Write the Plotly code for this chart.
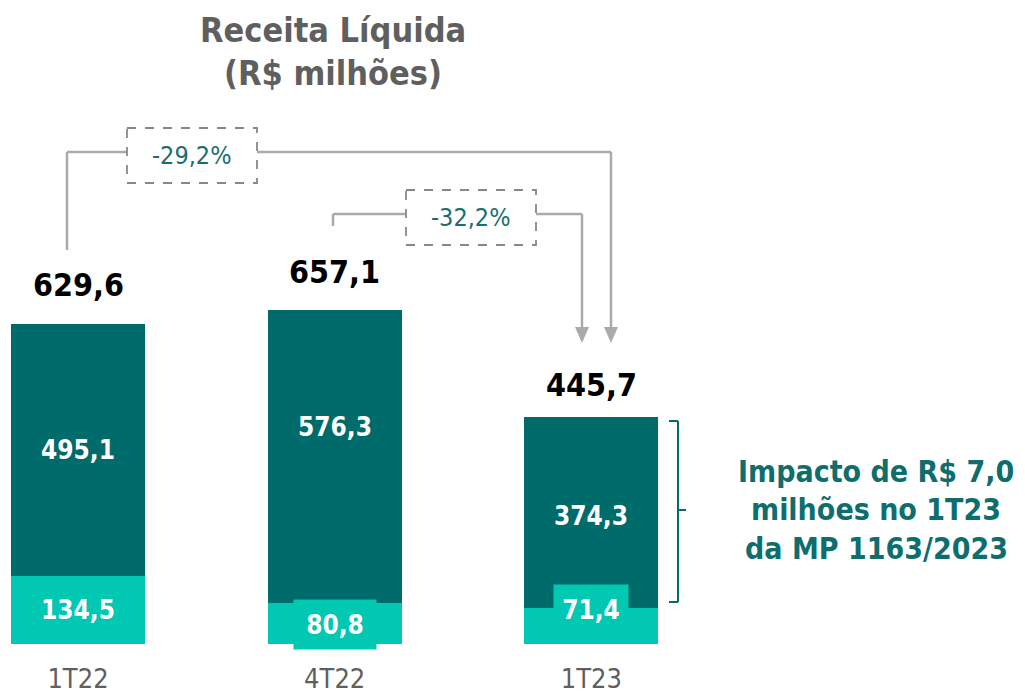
import plotly.graph_objects as go

categories = ["1T22", "4T22", "1T23"]
base_values = [134.5, 80.8, 71.4]
top_values = [495.1, 576.3, 374.3]
totals = [629.6, 657.1, 445.7]
base_labels = ["134,5", "80,8", "71,4"]
top_labels = ["495,1", "576,3", "374,3"]
total_labels = ["629,6", "657,1", "445,7"]
growth_labels = ["-29,2%", "-32,2%"]
title_lines = ["Receita Líquida", "(R$ milhões)"]
note_lines = ["Impacto de R$ 7,0", "milhões no 1T23", "da MP 1163/2023"]

DARK = "#006B6B"
LIGHT = "#00C8B3"
GRAY = "#5F5F5F"
LINE = "#AAAAAA"
FONT = "DejaVu Sans Condensed, DejaVu Sans"

W, H = 1025, 699
PLOT_BOTTOM = 644
K = 0.5085          # px per unit
STEP = 256.7        # px per category
X0 = 78             # px of first category

def px(x):
    return x / W

def py(y):
    return (PLOT_BOTTOM - y) / PLOT_BOTTOM

def note(x, y, text, font, **kw):
    fig.add_annotation(xref="paper", yref="paper", x=px(x), y=py(y), text=text,
                       showarrow=False, xanchor="center", yanchor="middle", font=font, **kw)

fig = go.Figure()
fig.add_bar(x=list(range(3)), y=base_values, marker=dict(color=LIGHT, line=dict(width=0)),
            width=134 / STEP, hoverinfo="skip")
fig.add_bar(x=list(range(3)), y=top_values, marker=dict(color=DARK, line=dict(width=0)),
            width=134 / STEP, hoverinfo="skip")

# base labels (with bg boxes on 2nd and 3rd)
for i, (v, lab) in enumerate(zip(base_values, base_labels)):
    kw = {}
    ys = 0
    if i == 1:
        kw = dict(bgcolor=LIGHT, width=80, height=47)
        ys = -1
    elif i == 2:
        kw = dict(bgcolor=LIGHT, width=72, height=48)
        ys = 16
    fig.add_annotation(x=i, y=v / 2, text=f"<b>{lab}</b>", showarrow=False, yshift=ys,
                       xanchor="center", yanchor="middle",
                       font=dict(family=FONT, size=26, color="white"), **kw)

top_shift = [0, 29, -3]
for i, (b, v, lab) in enumerate(zip(base_values, top_values, top_labels)):
    fig.add_annotation(x=i, y=b + v / 2, text=f"<b>{lab}</b>", showarrow=False,
                       xanchor="center", yanchor="middle", yshift=top_shift[i],
                       font=dict(family=FONT, size=26, color="white"))

total_shift = [39, 38, 32]
for i, (t, lab) in enumerate(zip(totals, total_labels)):
    fig.add_annotation(x=i, y=t, text=f"<b>{lab}</b>", showarrow=False,
                       xanchor="center", yanchor="middle", yshift=total_shift[i],
                       font=dict(family=FONT, size=32, color="black"))

# title
for j, line in enumerate(title_lines):
    note(333, 30 + j * 43, f"<b>{line}</b>", dict(family=FONT, size=34, color=GRAY))

# connector lines
def seg(x0, y0, x1, y1, color=LINE, width=2.5, dash=None):
    fig.add_shape(type="line", xref="paper", yref="paper",
                  x0=px(x0), y0=py(y0), x1=px(x1), y1=py(y1),
                  line=dict(color=color, width=width, dash=dash))

# line 1
seg(67, 250, 67, 152)
seg(67, 152, 127, 152)
seg(257, 152, 611, 152)
seg(611, 152, 611, 330)
# line 2
seg(333, 226, 333, 214)
seg(333, 214, 406, 214)
seg(536, 214, 582, 214)
seg(582, 214, 582, 330)

for ax in (582, 611):
    path = f"M {px(ax-7)},{py(327)} L {px(ax+7)},{py(327)} L {px(ax)},{py(343)} Z"
    fig.add_shape(type="path", xref="paper", yref="paper", path=path,
                  fillcolor=LINE, line=dict(color=LINE, width=0))

# dashed boxes with growth labels
boxes = [(127, 128, 257, 183), (406, 190, 536, 245)]
for (bx0, by0, bx1, by1), lab in zip(boxes, growth_labels):
    fig.add_shape(type="rect", xref="paper", yref="paper",
                  x0=px(bx0), y0=py(by0), x1=px(bx1), y1=py(by1),
                  line=dict(color="#888888", width=1.8, dash="dash"))
    note((bx0 + bx1) / 2, (by0 + by1) / 2, lab, dict(family=FONT, size=25, color="#1B6E6E"))

# bracket
seg(669, 421, 678, 421, color=DARK, width=2)
seg(678, 421, 678, 602, color=DARK, width=2)
seg(669, 602, 678, 602, color=DARK, width=2)
seg(678, 510, 686, 510, color=DARK, width=2)

for j, line in enumerate(note_lines):
    note(876, 471 + j * 38.5, f"<b>{line}</b>", dict(family=FONT, size=30, color="#0E6E6E"))

fig.update_layout(
    width=W, height=H, barmode="stack", showlegend=False,
    margin=dict(l=0, r=0, t=0, b=H - PLOT_BOTTOM, pad=0, autoexpand=False),
    plot_bgcolor="white", paper_bgcolor="white", bargap=0,
    xaxis=dict(range=[-X0 / STEP, (W - X0) / STEP], tickmode="array",
               tickvals=list(range(3)), ticktext=categories, showgrid=False,
               zeroline=False, showline=False, ticks="", automargin=False,
               tickfont=dict(family=FONT, size=27, color=GRAY), ticklabelstandoff=16),
    yaxis=dict(range=[0, PLOT_BOTTOM / K], visible=False, showgrid=False, zeroline=False,
               automargin=False),
)

fig.write_html("out.html", post_script="document.body.style.margin='0';",
               config={"displayModeBar": False})
